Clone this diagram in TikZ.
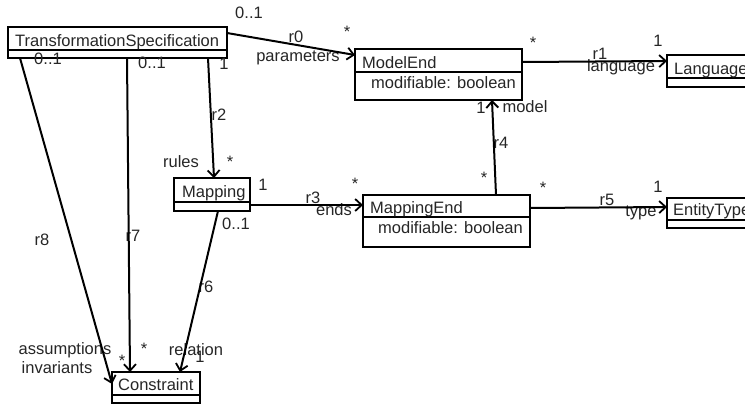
\documentclass[tikz,border=0pt]{standalone}
\usepackage{fontspec}
\setmainfont{Liberation Sans}
\usetikzlibrary{arrows.meta}
\begin{document}
\begin{tikzpicture}[x=1pt,y=-1pt,
  cls/.style={draw, line width=2pt, anchor=north west, inner sep=0pt, outer sep=0pt, rectangle},
  txt/.style={font=\fontsize{16.5}{19}\selectfont, inner sep=0pt, text=black!85},
  ctext/.style={txt, anchor=base west},
  lbl/.style={txt, anchor=center},
  plain/.style={line width=2pt},
  assoc/.style={line width=2pt, -{Straight Barb[length=6.5pt,width=12pt,line width=1.8pt]}}]
\clip (0,0) rectangle (745,405);
\fill[white] (0,0) rectangle (745,405);

% class boxes
\node[cls, minimum width=219pt, minimum height=31pt] (ts) at (8,27) {};
\draw[plain] ([yshift=-23pt]ts.north west) -- ([yshift=-23pt]ts.north east);
\node[ctext] (tsn) at (15,46) {TransformationSpecification};

\node[cls, minimum width=167pt, minimum height=51pt] (me) at (355,49) {};
\draw[plain] ([yshift=-23pt]me.north west) -- ([yshift=-23pt]me.north east);
\node[ctext] (men) at (362,68) {ModelEnd};
\node[ctext] (mea) at (371,88) {modifiable: boolean};

\node[cls, minimum width=140pt, minimum height=32pt] (lang) at (667,55) {};
\draw[plain] ([yshift=-23pt]lang.north west) -- ([yshift=-23pt]lang.north east);
\node[ctext] (langn) at (674,74) {Language};

\node[cls, minimum width=76pt, minimum height=33pt] (map) at (174,178) {};
\draw[plain] ([yshift=-24pt]map.north west) -- ([yshift=-24pt]map.north east);
\node[ctext] (mapn) at (182,197) {Mapping};

\node[cls, minimum width=167pt, minimum height=52pt] (mpe) at (363,195) {};
\draw[plain] ([yshift=-22pt]mpe.north west) -- ([yshift=-22pt]mpe.north east);
\node[ctext] (mpen) at (370,213) {MappingEnd};
\node[ctext] (mpea) at (378,233) {modifiable: boolean};

\node[cls, minimum width=140pt, minimum height=30pt] (et) at (667,198) {};
\draw[plain] ([yshift=-22pt]et.north west) -- ([yshift=-22pt]et.north east);
\node[ctext] (etn) at (673,215) {EntityType};

\node[cls, minimum width=88pt, minimum height=31pt] (con) at (112,372) {};
\draw[plain] ([yshift=-23pt]con.north west) -- ([yshift=-23pt]con.north east);
\node[ctext] (conn) at (118,390) {Constraint};

% association labels
\node[lbl] (l0a) at (249,13) {0..1};
\node[lbl] (l0b) at (296,37) {r0};
\node[lbl] (l0c) at (347,32) {*};
\node[lbl] (l0d) at (298,58) {parameters};

\node[lbl] (l1a) at (533,43) {*};
\node[lbl] (l1b) at (600,54) {r1};
\node[lbl] (l1c) at (658,41) {1};
\node[lbl] (l1d) at (621,67) {language};

\node[lbl] (l4a) at (481,108) {1};
\node[lbl] (l4b) at (525,107) {model};
\node[lbl] (l4c) at (501,143) {r4};
\node[lbl] (l4d) at (484,178) {*};

\node[lbl] (l5a) at (543,188) {*};
\node[lbl] (l5b) at (607,200) {r5};
\node[lbl] (l5c) at (658,187) {1};
\node[lbl] (l5d) at (641,213) {type};

\node[lbl] (l2a) at (224,64) {1};
\node[lbl] (l2b) at (219,115) {r2};
\node[lbl] (l2c) at (181,162) {rules};
\node[lbl] (l2d) at (230,162) {*};

\node[lbl] (l3a) at (263,185) {1};
\node[lbl] (l3b) at (236,224) {0..1};
\node[lbl] (l3c) at (313,198) {r3};
\node[lbl] (l3d) at (334,210) {ends};
\node[lbl] (l3e) at (355,184) {*};

\node[lbl] (l6a) at (206,287) {r6};
\node[lbl] (l6b) at (196,350) {relation};
\node[lbl] (l6c) at (200,357) {1};

\node[lbl] (l7a) at (152,63) {0..1};
\node[lbl] (l7b) at (133,236) {r7};
\node[lbl] (l7c) at (144,349) {*};
\node[lbl] (l7d) at (122,361) {*};

\node[lbl] (l8a) at (48,59) {0..1};
\node[lbl] (l8b) at (42,240) {r8};
\node[lbl] (l8c) at (65,350) {assumptions};
\node[lbl] (l8d) at (57,368) {invariants};

% associations
\draw[assoc] ([yshift=-6pt]ts.north east) -- ([yshift=-6pt]me.north west);
\draw[assoc] ([yshift=-13pt]me.north east) -- ([yshift=-6pt]lang.north west);
\draw[assoc] ([xshift=133pt]mpe.north west) -- ([xshift=137pt]me.south west);
\draw[assoc] ([xshift=200pt]ts.south west) -- ([xshift=40pt]map.north west);
\draw[assoc] ([yshift=6pt]map.south east) -- ([yshift=-10pt]mpe.north west);
\draw[assoc] ([yshift=-13pt]mpe.north east) -- ([yshift=-9pt]et.north west);
\draw[assoc] ([xshift=44pt]map.south west) -- ([xshift=68pt]con.north west);
\draw[assoc] ([xshift=119pt]ts.south west) -- ([xshift=18pt]con.north west);
\draw[assoc] ([xshift=12pt]ts.south west) -- ([yshift=-12pt]con.north west);
\end{tikzpicture}
\end{document}
